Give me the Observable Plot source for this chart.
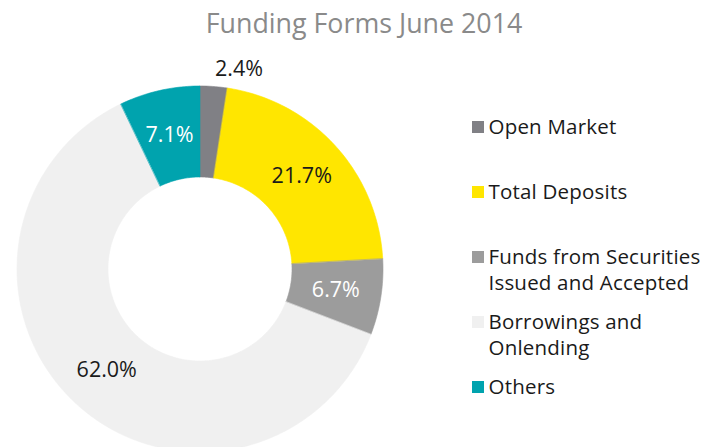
<!DOCTYPE html>
<html>
<head>
<meta charset="utf-8">
<script src="https://cdn.jsdelivr.net/npm/d3@7"></script>
<script src="https://cdn.jsdelivr.net/npm/@observablehq/plot@0.6"></script>
<style>
  html, body { margin: 0; padding: 0; background: #fff; }
  #chart svg { display: block; }
  #chart svg g.legend-text text { letter-spacing: 0.2px; }
</style>
</head>
<body>
<div id="chart"></div>
<script>
// ---- data ----
const title = "Funding Forms June 2014";
const categories = ["Open Market", "Total Deposits", "Funds from Securities Issued and Accepted", "Borrowings and Onlending", "Others"];
const legendLabels = ["Open Market", "Total Deposits", "Funds from Securities\nIssued and Accepted", "Borrowings and\nOnlending", "Others"];
const values = [2.4, 21.7, 6.7, 62.0, 7.1];
const colors = ["#808085", "#FFE600", "#9C9C9C", "#F0F0F0", "#00A3AE"];
const labelColors = ["#1a1a1a", "#1a1a1a", "#ffffff", "#1a1a1a", "#ffffff"];

// ---- layout ----
const W = 704, H = 447;
const cx = 199.5, cy = 268.5, R = 183, r0 = 92;
const font = "'Open Sans', 'Noto Sans', sans-serif";

const rows = categories.map((c, i) => ({category: c, value: values[i], color: colors[i], label: legendLabels[i], labelColor: labelColors[i], i}));
const arcs = d3.pie().sort(null).value(d => d.value)(rows);

// polygon points for each slice (angles from d3.pie, clockwise from 12 o'clock)
const pts = [];
const px = (a, rad) => cx + rad * Math.sin(a);
const py = (a, rad) => cy - rad * Math.cos(a);
for (const a of arcs) {
  const n = Math.max(4, Math.ceil((a.endAngle - a.startAngle) / (Math.PI / 180)));
  for (let k = 0; k <= n; k++) {
    const t = a.startAngle + (a.endAngle - a.startAngle) * k / n;
    pts.push({category: a.data.category, x: px(t, R), y: py(t, R)});
  }
  for (let k = n; k >= 0; k--) {
    const t = a.startAngle + (a.endAngle - a.startAngle) * k / n;
    pts.push({category: a.data.category, x: px(t, r0), y: py(t, r0)});
  }
}

// slice labels
const labels = arcs.map(a => {
  const mid = (a.startAngle + a.endAngle) / 2;
  const small = a.data.value < 5;
  const rad = small ? R + 17 : (R + r0) / 2;
  return {
    text: a.data.value.toFixed(1) + "%",
    x: px(mid, rad),
    y: py(mid, rad),
    anchor: small ? "start" : "middle",
    fill: small ? "#1a1a1a" : a.data.labelColor
  };
});

// legend
const lgX = 472, lgY0 = 121, lgStep = 65, sq = 12;
const legend = rows.map((d, i) => ({...d, y: lgY0 + i * lgStep}));

const chart = Plot.plot({
  width: W,
  height: H,
  margin: 0,
  x: {type: "identity", axis: null},
  y: {type: "identity", axis: null},
  color: {domain: categories, range: colors},
  style: {fontFamily: font, background: "#fff"},
  marks: [
    Plot.line(pts, {x: "x", y: "y", z: "category", fill: "category", stroke: "category", strokeWidth: 0.6, curve: "linear-closed"}),
    Plot.text(labels.filter(d => d.anchor === "middle"), {x: "x", y: "y", text: "text", fill: "fill", fontSize: 21.5, textAnchor: "middle"}),
    Plot.text(labels.filter(d => d.anchor === "start"), {x: "x", y: "y", text: "text", fill: "fill", fontSize: 21.5, textAnchor: "start"}),
    Plot.text([title], {x: () => 363.5, y: () => 24, text: d => d, fill: "#8a8a8a", fontSize: 26.8, textAnchor: "middle"}),
    Plot.rect(legend, {x1: () => lgX, x2: () => lgX + sq, y1: d => d.y, y2: d => d.y + sq, fill: "category"}),
    Plot.text(legend, {x: () => lgX + 16, y: d => d.y - 6, text: "label", fill: "#1a1a1a", fontSize: 20.5, textAnchor: "start", lineAnchor: "top", lineHeight: 1.27, className: "legend-text"})
  ]
});
document.getElementById("chart").appendChild(chart);
</script>
</body>
</html>
